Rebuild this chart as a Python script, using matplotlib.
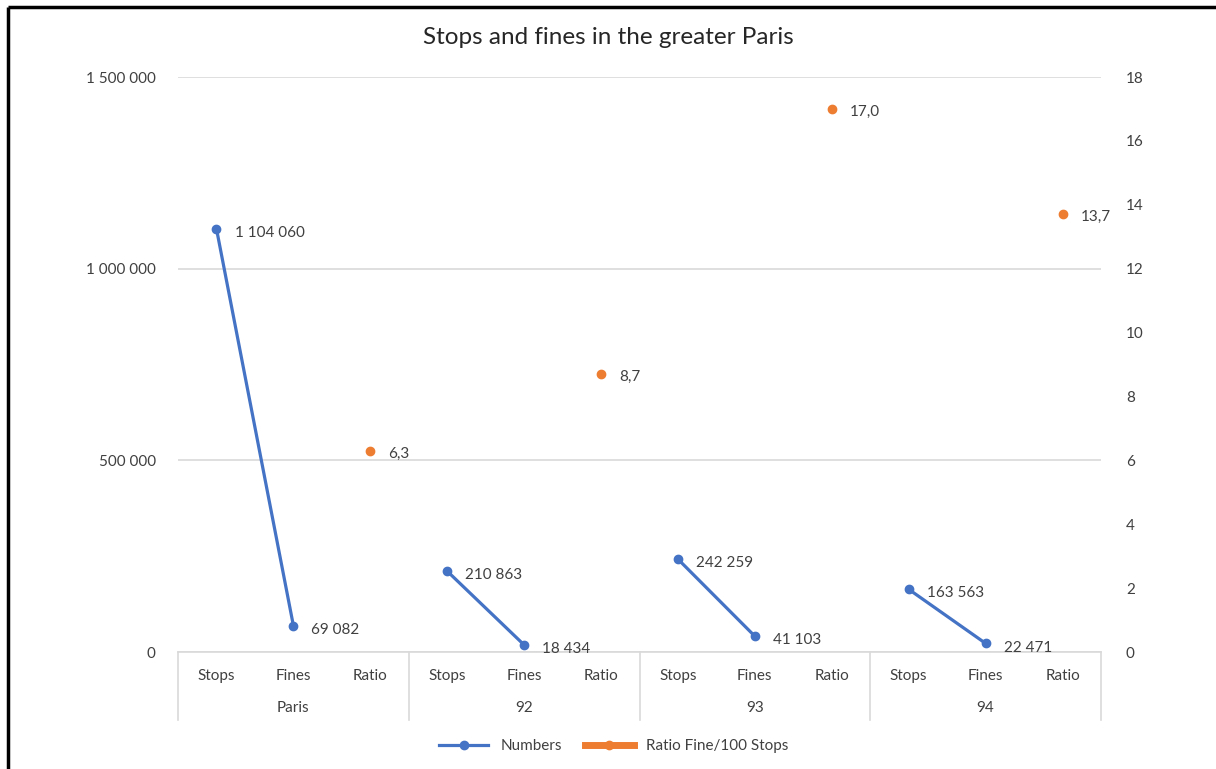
import matplotlib.pyplot as plt
import numpy as np
from matplotlib.lines import Line2D

plt.rcParams['font.family'] = ['Lato', 'DejaVu Sans']

groups = ["Paris", "92", "93", "94"]
items = ["Stops", "Fines", "Ratio"]
stops = [1104060, 210863, 242259, 163563]
fines = [69082, 18434, 41103, 22471]
ratio = [6.3, 8.7, 17.0, 13.7]

blue = "#4472C4"
orange = "#ED7D31"
txt = "#404040"
grid_c = "#D9D9D9"
fs = 11

# build the 12-slot series (gaps at the Ratio slots for numbers, and vice versa)
numbers = []
ratios = []
for s, f, r in zip(stops, fines, ratio):
    numbers += [s, f, np.nan]
    ratios += [np.nan, np.nan, r]
numbers = np.array(numbers, dtype=float)
ratios = np.array(ratios, dtype=float)
x = np.arange(len(numbers))

fig = plt.figure(figsize=(12.16, 7.69), dpi=100)
ax = fig.add_axes([178 / 1216, 1 - 652 / 769, (1101 - 178) / 1216, (652 - 77) / 769])
ax2 = ax.twinx()

ax.plot(x, numbers, color=blue, lw=2.3, marker="o", ms=6, label="Numbers", zorder=3)
ax2.plot(x, ratios, color=orange, lw=5, marker="o", ms=6, label="Ratio Fine/100 Stops", zorder=3)

ax.set_xlim(-0.5, 11.5)
ax.set_ylim(0, 1500000)
ax2.set_ylim(0, 18)
ax.set_yticks([0, 500000, 1000000, 1500000])
ax.set_yticklabels(["0", "500 000", "1 000 000", "1 500 000"])
ax2.set_yticks(np.arange(0, 19, 2))
ax.set_xticks([])

ax.grid(axis="y", color=grid_c, lw=1.2)
ax.set_axisbelow(True)
for a in (ax, ax2):
    for side in ["top", "left", "right"]:
        a.spines[side].set_visible(False)
    a.tick_params(length=0, labelsize=fs, colors=txt)
ax.spines["bottom"].set_color(grid_c)
ax.spines["bottom"].set_linewidth(1.2)
ax2.spines["bottom"].set_visible(False)
ax.tick_params(axis="y", pad=16)
ax2.tick_params(axis="y", pad=18)

# data labels
for xi, v in zip(x, numbers):
    if not np.isnan(v):
        ax2.annotate(f"{int(v):,}".replace(",", " "), (xi, v / 1500000 * 18), xytext=(13, -3),
                     textcoords="offset points", ha="left", va="center",
                     fontsize=fs, color=txt, zorder=5)
for xi, v in zip(x, ratios):
    if not np.isnan(v):
        ax2.annotate(f"{v:.1f}".replace(".", ","), (xi, v), xytext=(13, -2),
                     textcoords="offset points", ha="left", va="center",
                     fontsize=fs, color=txt, zorder=5)

# multi-level category axis
trans = ax.get_xaxis_transform()
for i in range(len(x)):
    ax.text(x[i], -0.0417, items[i % 3], transform=trans, ha="center", va="center",
            fontsize=fs, color=txt, clip_on=False)
for g, name in enumerate(groups):
    ax.text(g * 3 + 1, -0.0974, name, transform=trans, ha="center", va="center",
            fontsize=fs, color=txt, clip_on=False)
for b in [-0.5, 2.5, 5.5, 8.5, 11.5]:
    ax.plot([b, b], [0, -0.118], transform=trans, color=grid_c, lw=1.2, clip_on=False)

fig.text(0.5, 1 - 38 / 769, "Stops and fines in the greater Paris", ha="center", va="center",
         fontsize=17.5, color="#262626")

h1, l1 = ax.get_legend_handles_labels()
h2, l2 = ax2.get_legend_handles_labels()
fig.legend(h1 + h2, l1 + l2, loc="center", bbox_to_anchor=(614 / 1216, 1 - 746 / 769),
           ncol=2, frameon=False, fontsize=fs, handlelength=3.2, columnspacing=1.5,
           labelcolor=txt)

# frame on left and top edges
fig.add_artist(Line2D([8 / 1216, 8 / 1216], [-0.01, 1 - 7 / 769], color="black", lw=2.5,
                      solid_capstyle="butt"))
fig.add_artist(Line2D([8 / 1216, 1.01], [1 - 7 / 769, 1 - 7 / 769], color="black", lw=2.5,
                      solid_capstyle="butt"))

fig.savefig("out.png", dpi=100)
